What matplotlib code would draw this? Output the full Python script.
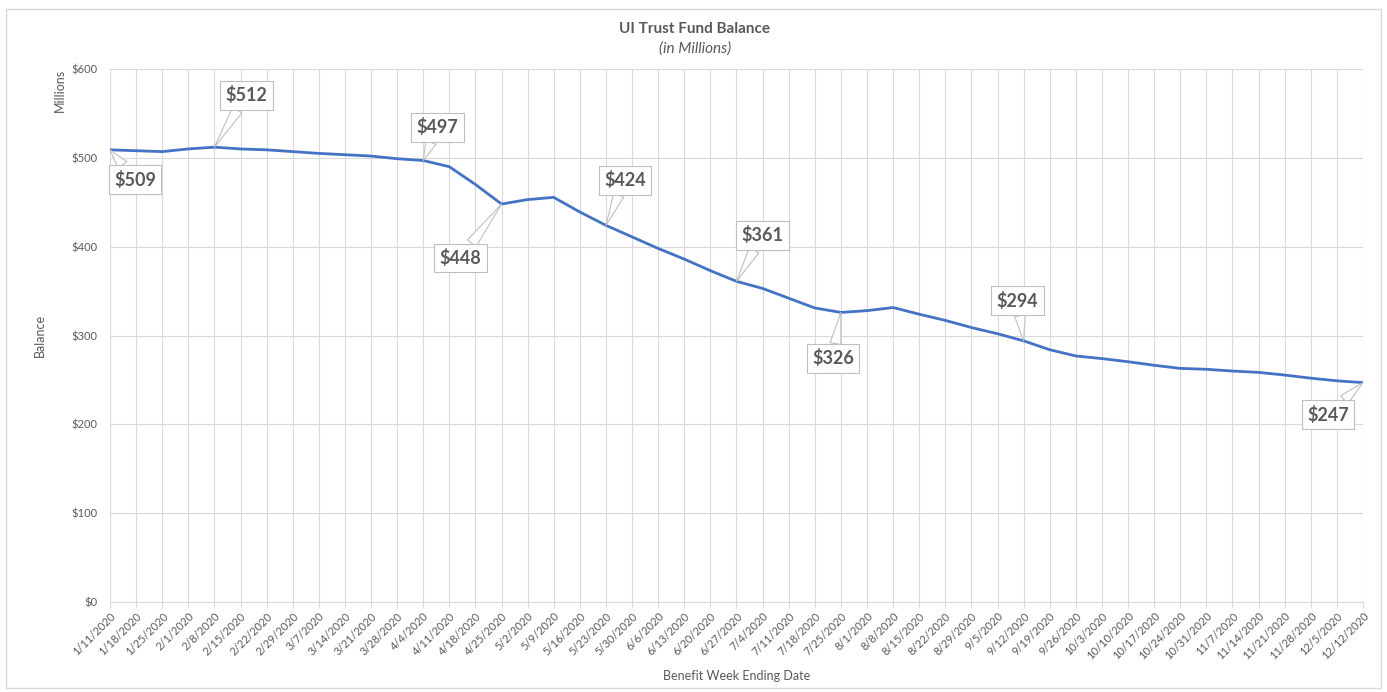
import matplotlib
matplotlib.use("Agg")
import matplotlib.pyplot as plt
from matplotlib.patches import Rectangle

plt.rcParams['font.family'] = ['Lato', 'DejaVu Sans']

# weekly benefit week ending dates
dates = ['1/11/2020', '1/18/2020', '1/25/2020', '2/1/2020', '2/8/2020', '2/15/2020',
         '2/22/2020', '2/29/2020', '3/7/2020', '3/14/2020', '3/21/2020', '3/28/2020',
         '4/4/2020', '4/11/2020', '4/18/2020', '4/25/2020', '5/2/2020', '5/9/2020',
         '5/16/2020', '5/23/2020', '5/30/2020', '6/6/2020', '6/13/2020', '6/20/2020',
         '6/27/2020', '7/4/2020', '7/11/2020', '7/18/2020', '7/25/2020', '8/1/2020',
         '8/8/2020', '8/15/2020', '8/22/2020', '8/29/2020', '9/5/2020', '9/12/2020',
         '9/19/2020', '9/26/2020', '10/3/2020', '10/10/2020', '10/17/2020', '10/24/2020',
         '10/31/2020', '11/7/2020', '11/14/2020', '11/21/2020', '11/28/2020', '12/5/2020',
         '12/12/2020']

# balance in millions
balance = [509, 508, 507, 510, 512, 510, 509, 507, 505, 503.5, 502, 499,
           497, 490, 470, 448, 453, 455.5, 439, 424, 411, 398, 386, 373,
           361, 353, 342, 331, 326, 328, 331.5, 324, 317, 309, 302, 294,
           284, 277, 274, 270.5, 266.5, 263, 262, 260, 258.5, 255.5, 252, 249,
           247]

# labelled points: index and offset of the callout box (pixels)
label_idx = [0, 4, 12, 15, 19, 24, 28, 35, 48]
label_off = [(25, -30), (32, 52), (14, 33), (-41, -54), (19, 45),
             (26, 46), (-8, -46), (-6, 40), (-35, -32)]

fig = plt.figure(figsize=(13.87, 6.92), dpi=100)
fig.patches.append(Rectangle((0.004, 0.006), 0.992, 0.981, transform=fig.transFigure,
                             fill=False, edgecolor='#d9d9d9', linewidth=1))
ax = fig.add_axes([0.0793, 0.130, 0.9034, 0.7703])

x = list(range(len(dates)))
ax.plot(x, balance, color='#4472C4', linewidth=2.0, solid_capstyle='round', zorder=3)

ax.set_xlim(0, len(dates) - 1)
ax.set_ylim(0, 600)
ax.set_yticks([0, 100, 200, 300, 400, 500, 600])
ax.set_yticklabels(['$%d' % v for v in [0, 100, 200, 300, 400, 500, 600]])
ax.set_xticks(x)
ax.set_xticklabels(dates, rotation=45, ha='right', rotation_mode='anchor')
ax.tick_params(axis='both', colors='#595959', labelsize=8, length=0)
ax.tick_params(axis='y', pad=9)
ax.tick_params(axis='x', length=4, color='#d9d9d9', pad=2)
ax.grid(True, color='#d9d9d9', linewidth=0.8)
ax.set_axisbelow(True)
for s in ['top', 'right', 'left']:
    ax.spines[s].set_visible(False)
ax.spines['bottom'].set_color('#d9d9d9')

ax.set_xlabel('Benefit Week Ending Date', color='#595959', fontsize=9, labelpad=6)
fig.text(0.029, 0.515, 'Balance', rotation=90, color='#595959', fontsize=9,
         ha='center', va='center')
fig.text(0.043, 0.13 + 0.7703 * 0.96, 'Millions', rotation=90, color='#595959',
         fontsize=9, ha='center', va='center')

fig.text(0.501, 0.958, 'UI Trust Fund Balance', ha='center', va='center',
         fontsize=11, fontweight='bold', color='#595959')
fig.text(0.501, 0.930, '(in Millions)', ha='center', va='center',
         fontsize=11, fontstyle='italic', color='#595959')

for i, off in zip(label_idx, label_off):
    ax.annotate('$%d' % round(balance[i]), xy=(i, balance[i]), xytext=off,
                textcoords='offset pixels', ha='center', va='center',
                fontsize=13, fontweight='bold', color='#595959',
                bbox=dict(boxstyle='square,pad=0.3', fc='white', ec='#bfbfbf', lw=0.8),
                arrowprops=dict(arrowstyle='wedge,tail_width=0.6', fc='white',
                                ec='#bfbfbf', lw=0.8, shrinkA=0, shrinkB=0),
                zorder=4)

fig.savefig('out.png', dpi=100)
